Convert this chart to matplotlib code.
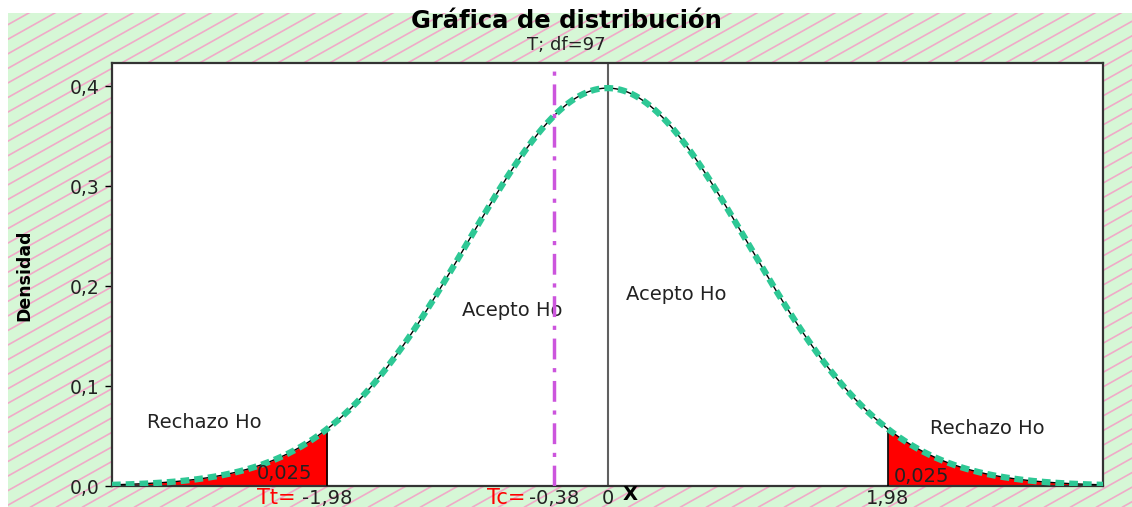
import math
import numpy as np
import matplotlib
matplotlib.use("Agg")
import matplotlib.pyplot as plt
from matplotlib.patches import Rectangle
from matplotlib.lines import Line2D

# distribution settings
df = 97
t_crit = 1.98
t_calc = -0.38
alpha_tail = "0,025"
tick_vals = [-1.98, -0.38, 0, 1.98]
tick_labels = ["-1,98", "-0,38", "0", "1,98"]
ytick_vals = [0.0, 0.1, 0.2, 0.3, 0.4]
ytick_labels = ["0,0", "0,1", "0,2", "0,3", "0,4"]


def t_pdf(x, v):
    c = math.exp(math.lgamma((v + 1) / 2) - math.lgamma(v / 2)) / math.sqrt(v * math.pi)
    return c * (1 + x ** 2 / v) ** (-(v + 1) / 2)


W, H = 1132, 507
fig = plt.figure(figsize=(W / 100, H / 100), dpi=100)

# hatched green background
bg = Rectangle((8 / W, 0), 1, 1 - 13 / H, transform=fig.transFigure,
               facecolor="#d6f7d6", edgecolor="none", zorder=-10)
fig.patches.append(bg)
slope = 0.56
run = H / slope
for x0 in np.arange(-run, W + 30, 26):
    xs = np.array([x0, x0 + run])
    ys = np.array([0, H])
    ln = Line2D(xs / W, ys / H, transform=fig.transFigure, color="#f0aac8",
                lw=1.2, zorder=-9)
    ln.set_clip_path(bg)
    fig.lines.append(ln)

ax = fig.add_axes([112 / W, 1 - 486 / H, (1103 - 112) / W, (486 - 63) / H])
ax.set_facecolor("white")

x = np.linspace(-3.5, 3.5, 800)
y = t_pdf(x, df)

# rejection tails
xl = np.append(x[x <= -t_crit], -t_crit)
xr = np.insert(x[x >= t_crit], 0, t_crit)
ax.fill_between(xl, 0, t_pdf(xl, df), color="red", lw=0, zorder=2)
ax.fill_between(xr, 0, t_pdf(xr, df), color="red", lw=0, zorder=2)
ax.plot(x, y, color="black", lw=1, zorder=3)
ax.vlines([-t_crit, t_crit], 0, t_pdf(t_crit, df), color="black", lw=1.2, zorder=3)

ax.plot(x, y, color="#2ec895", lw=4.5, dashes=(1.4, 0.8), zorder=4)

ax.axvline(0, color="#606060", lw=1.5, zorder=1)
ax.axvline(t_calc, color="#cc55dd", lw=2.5, dashes=(6, 2.5, 1.2, 2.5), zorder=5)

ax.set_xlim(-3.5, 3.5)
ax.set_ylim(0, 0.423)

fs = 14
ax.text(-3.25, 0.058, "Rechazo Ho", fontsize=fs, color="#222222")
ax.text(2.28, 0.052, "Rechazo Ho", fontsize=fs, color="#222222")
ax.text(-1.03, 0.170, "Acepto Ho", fontsize=fs, color="#222222")
ax.text(0.13, 0.186, "Acepto Ho", fontsize=fs, color="#222222")
ax.text(-2.48, 0.007, alpha_tail, fontsize=fs, color="#222222", zorder=6)
ax.text(2.02, 0.004, alpha_tail, fontsize=fs, color="#222222", zorder=6)

ax.set_yticks(ytick_vals)
ax.set_yticklabels(ytick_labels, fontsize=13.5, color="#222222")
ax.set_xticks(tick_vals)
ax.set_xticklabels(tick_labels, fontsize=14, color="#222222")
ax.tick_params(axis="x", length=0, pad=2)
ax.tick_params(axis="y", length=5, width=1, pad=4)

ax.text(-2.20, -0.002, "Tt=", fontsize=15, color="red", ha="right", va="top",
        clip_on=False)
ax.text(-0.58, -0.002, "Tc=", fontsize=15, color="red", ha="right", va="top",
        clip_on=False)
ax.text(0.16, 0.001, "X", fontsize=14, fontweight="bold", ha="center", va="top",
        clip_on=False)

for s in ax.spines.values():
    s.set_color("#333333")
    s.set_linewidth(1.6)

fig.text(24 / W, 1 - 275 / H, "Densidad", rotation=90, fontsize=12.5,
         fontweight="bold", ha="center", va="center")
fig.text(566 / W, 1 - 21 / H, "Gráfica de distribución", fontsize=17.5,
         fontweight="bold", ha="center", va="center")
fig.text(566 / W, 1 - 45 / H, "T; df=97", fontsize=13, ha="center", va="center",
         color="#222222")

fig.savefig("out.png", dpi=100)
